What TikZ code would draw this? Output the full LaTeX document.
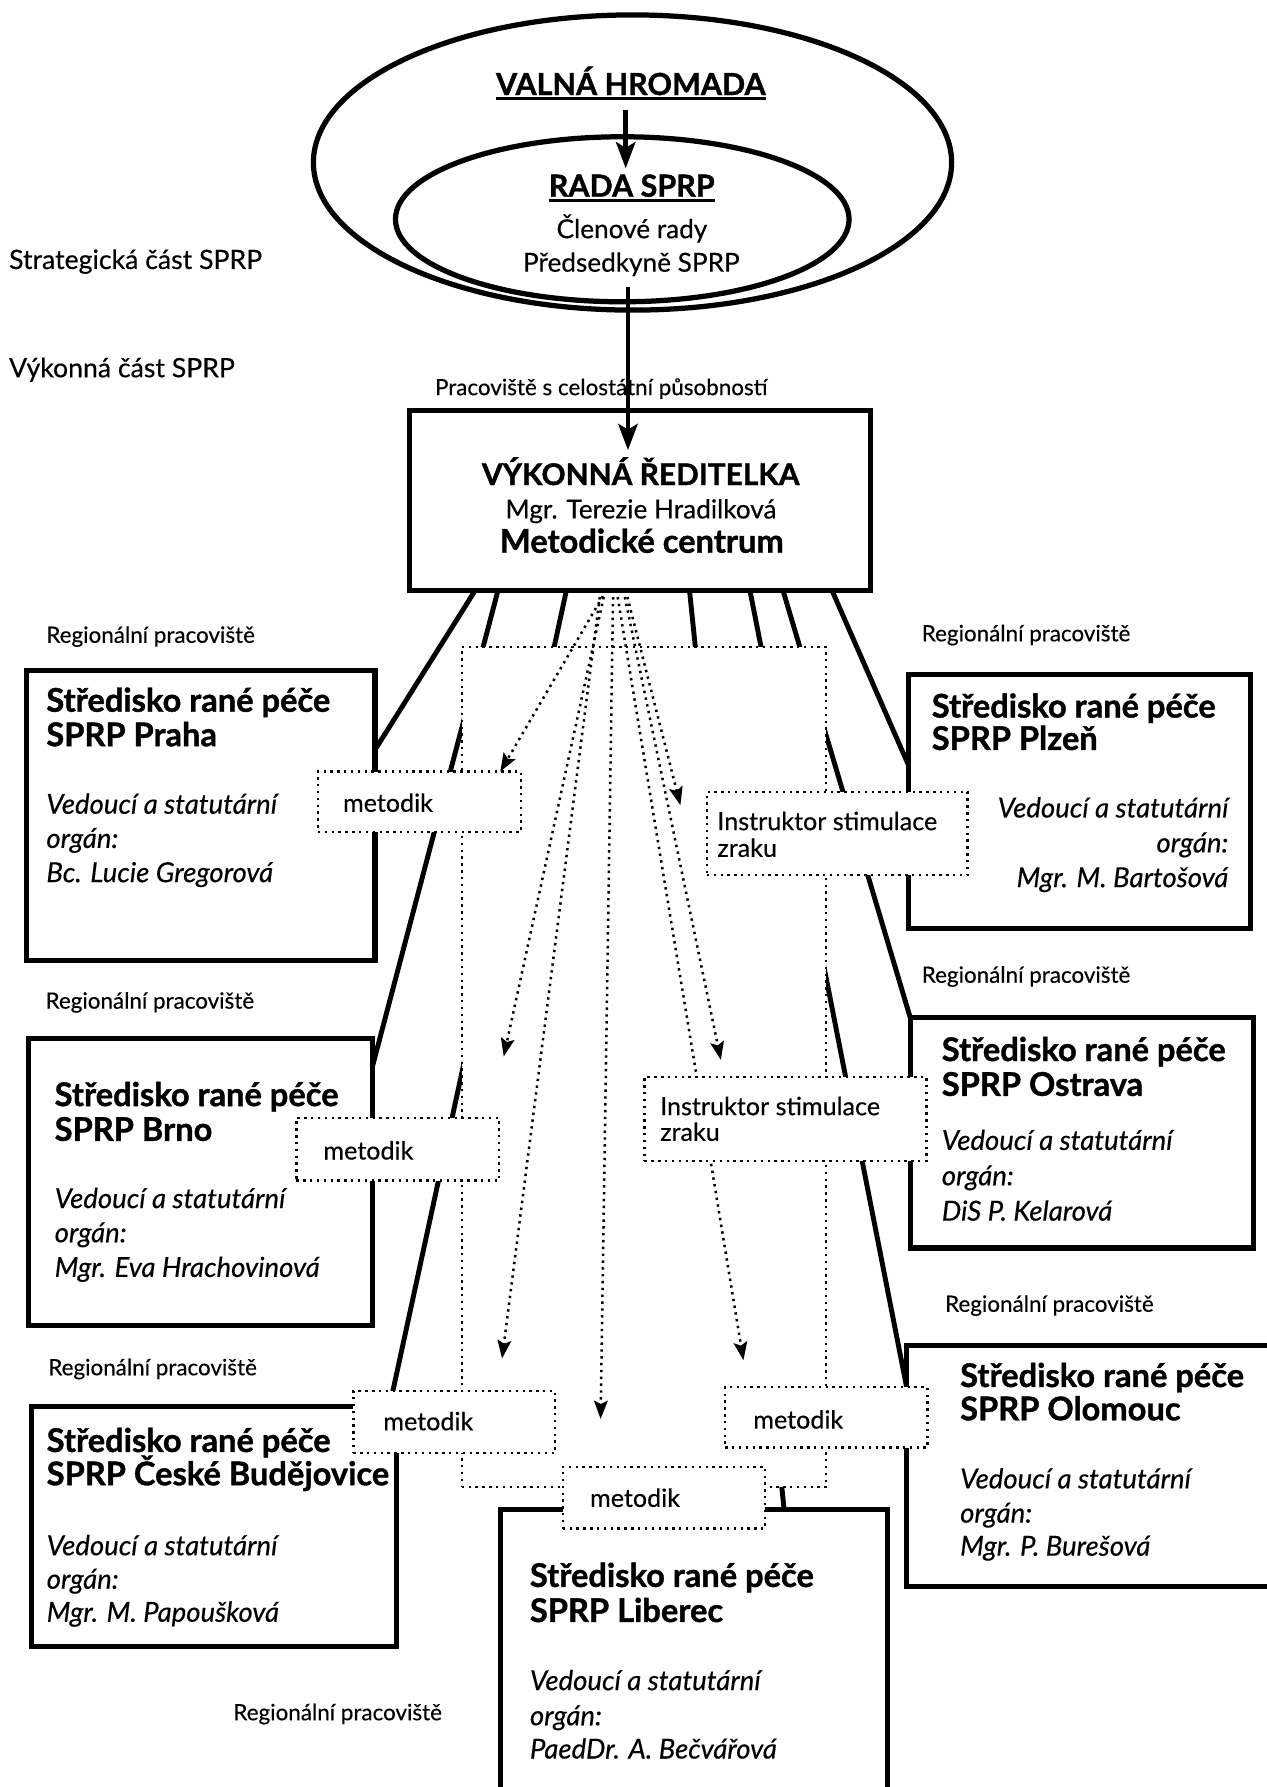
\documentclass[tikz,border=0pt]{standalone}
\usepackage{fontspec}
\setmainfont{Lato}[UprightFeatures={FakeBold=0.35}, ItalicFeatures={FakeBold=0.35}, BoldFeatures={FakeBold=1.2}]
\usetikzlibrary{arrows.meta,shapes.geometric,calc}
\pgfdeclarelayer{lines}
\pgfdeclarelayer{framel}
\pgfdeclarelayer{arrl}
\pgfsetlayers{lines,framel,arrl,main}
\newlength\calw
\newcommand\calib[4]{\settowidth\calw{\normalfont\fontsize{10pt}{12pt}\selectfont#2 #3}\pgfmathsetmacro#1{10*#4/\the\calw}}
\newcommand\fs[1]{\fontsize{#1pt}{#1pt}\selectfont}
\newcommand\ulx[1]{\setbox0=\hbox{#1}\rlap{\rule[-4.6pt]{\wd0}{2.8pt}}\box0}
\AtBeginDocument{%
\calib\szlab{}{Regionální pracoviště}{188}%
\calib\szside{}{Strategická část SPRP}{228}%
\calib\szmid{}{Předsedkyně SPRP}{196}%
\calib\szmet{}{Instruktor stimulace}{198.5}%
\calib\szit{\itshape}{Vedoucí a statutární}{208}%
\calib\szbf{\bfseries}{Středisko rané péče}{256}%
\calib\szvr{\bfseries}{VÝKONNÁ ŘEDITELKA}{285}%
\calib\szhead{\bfseries}{VALNÁ HROMADA}{243}%
}
\tikzset{
  txt/.style={inner sep=0pt, outer sep=0pt},
  lab/.style={txt, font=\fs{\szlab}},
  side/.style={txt, font=\fs{\szside}},
  mid/.style={txt, font=\fs{\szmid}},
  met/.style={txt, font=\fs{\szmet}},
  itx/.style={txt, font=\fs{\szit}\itshape},
  bft/.style={txt, font=\fs{\szbf}\bfseries},
  vrb/.style={txt, font=\fs{\szvr}\bfseries},
  head/.style={txt, font=\fs{\szhead}\bfseries},
  ell/.style={draw, ellipse, line width=4.6pt, inner sep=0pt, outer sep=0pt},
  rbox/.style={draw, line width=4.5pt, fill=white, inner sep=0pt, outer sep=0pt, anchor=north west},
  dotline/.style={line width=2.2pt, dash pattern=on 2.1pt off 3.9pt},
  mbox/.style={draw, dotline, fill=white, inner sep=0pt, outer sep=0pt, anchor=north west},
  conn/.style={line width=4.3pt},
  darr/.style={dotline, -{Stealth[length=16pt,width=12pt,inset=3pt]}},
  bigarr/.style={line width=3.9pt, -{Stealth[length=23pt,width=17pt,inset=5pt]}}
}
\begin{document}
\begin{tikzpicture}[x=1pt,y=-1pt]
\useasboundingbox (0,0) rectangle (1111,1568);

% strategic part
\node[ell, minimum width=560pt, minimum height=259pt] (outer) at (555,142.6) {};
\node[ell, minimum width=398pt, minimum height=144.8pt] (inner) at (546,192.4) {};
\node[head, anchor=base] (valna) at (553.5,83.4) {\ulx{VALNÁ HROMADA}};
\node[head, anchor=base] (rada) at (554.3,172.6) {\ulx{RADA SPRP}};
\node[mid, anchor=base] (clen) at (554.5,209) {Členové rady};
\node[mid, anchor=base] (preds) at (554,238.4) {Předsedkyně SPRP};
\node[side, anchor=base west] (strat) at (8,236) {Strategická část SPRP};
\node[side, anchor=base west] (vyk) at (8,331) {Výkonná část SPRP};
\node[lab, anchor=base west] (celost) at (381.7,346.7) {Pracoviště s celostátní působností};

% executive director
\node[rbox, minimum width=404.5pt, minimum height=158pt] (vr) at (359,360) {};
\node[vrb, anchor=base] (vrt) at (562.2,425.6) {VÝKONNÁ ŘEDITELKA};
\node[mid, anchor=base] (vrn) at (562.4,454.9) {Mgr. Terezie Hradilková};
\node[bft, anchor=base] (vrm) at (563.2,485) {Metodické centrum};
\draw[bigarr] ($(valna.base)+(-4.5,13.1)$) -- ($(rada.base)+(-5.3,-24.9)$);
\draw[bigarr] ($(preds.base)+(-3,13.2)$) -- ($(vrt.base)+(-11.2,-30.6)$);

% regional boxes
\node[rbox, minimum width=305.5pt, minimum height=254.5pt] (praha) at (23.5,588) {};
\node[rbox, minimum width=302pt, minimum height=252pt] (brno) at (25,911) {};
\node[rbox, minimum width=320.2pt, minimum height=211pt] (cb) at (27.8,1234) {};
\node[rbox, minimum width=339.3pt, minimum height=285.5pt] (lib) at (439.4,1324.5) {};
\node[rbox, minimum width=300pt, minimum height=223pt] (plzen) at (797,591.5) {};
\node[rbox, minimum width=301.4pt, minimum height=202.3pt] (ostrava) at (798.6,892.7) {};
\node[rbox, minimum width=344.3pt, minimum height=212pt] (olom) at (795.7,1180.4) {};

% Praha
\node[lab, anchor=base west] (lpraha) at (40.7,564) {Regionální pracoviště};
\node[bft, anchor=base west] (praha1) at (40.7,624.5) {Středisko rané péče};
\node[bft, anchor=base west] (praha2) at (40.7,654.7) {SPRP Praha};
\node[itx, anchor=base west] (praha3) at (40.7,714) {Vedoucí a statutární};
\node[itx, anchor=base west] (praha4) at (40.7,744) {orgán:};
\node[itx, anchor=base west] (praha5) at (40.7,774) {Bc. Lucie Gregorová};
% Brno
\node[lab, anchor=base west] (lbrno) at (40,885) {Regionální pracoviště};
\node[bft, anchor=base west] (brno1) at (48,970.5) {Středisko rané péče};
\node[bft, anchor=base west] (brno2) at (48,1001) {SPRP Brno};
\node[itx, anchor=base west] (brno3) at (48,1060) {Vedoucí a statutární};
\node[itx, anchor=base west] (brno4) at (48,1090) {orgán:};
\node[itx, anchor=base west] (brno5) at (48,1120.4) {Mgr. Eva Hrachovinová};
% Ceske Budejovice
\node[lab, anchor=base west] (lcb) at (42.4,1206.7) {Regionální pracoviště};
\node[bft, anchor=base west] (cb1) at (41,1274) {Středisko rané péče};
\node[bft, anchor=base west] (cb2) at (41,1303.2) {SPRP České Budějovice};
\node[itx, anchor=base west] (cb3) at (41,1364.6) {Vedoucí a statutární};
\node[itx, anchor=base west] (cb4) at (41,1394) {orgán:};
\node[itx, anchor=base west] (cb5) at (41,1423) {Mgr. M. Papoušková};
% Liberec
\node[lab, anchor=base west] (llib) at (204.8,1509.4) {Regionální pracoviště};
\node[bft, anchor=base west] (lib1) at (465,1392.4) {Středisko rané péče};
\node[bft, anchor=base west] (lib2) at (465,1423.2) {SPRP Liberec};
\node[itx, anchor=base west] (lib3) at (465,1483) {Vedoucí a statutární};
\node[itx, anchor=base west] (lib4) at (465,1513.8) {orgán:};
\node[itx, anchor=base west] (lib5) at (465,1543) {PaedDr. A. Bečvářová};
% Plzen
\node[lab, anchor=base west] (lplzen) at (808.8,562.7) {Regionální pracoviště};
\node[bft, anchor=base west] (plzen1) at (817.6,629.6) {Středisko rané péče};
\node[bft, anchor=base west] (plzen2) at (817.6,658) {SPRP Plzeň};
\node[itx, anchor=base east] (plzen3) at (1077.8,717.3) {Vedoucí a statutární};
\node[itx, anchor=base east] (plzen4) at (1077.8,747.9) {orgán:};
\node[itx, anchor=base east] (plzen5) at (1077.8,778.4) {Mgr. M. Bartošová};
% Ostrava
\node[lab, anchor=base west] (lostrava) at (808.8,862.3) {Regionální pracoviště};
\node[bft, anchor=base west] (ostrava1) at (826.4,931) {Středisko rané péče};
\node[bft, anchor=base west] (ostrava2) at (826.4,961.5) {SPRP Ostrava};
\node[itx, anchor=base west] (ostrava3) at (826.4,1009) {Vedoucí a statutární};
\node[itx, anchor=base west] (ostrava4) at (826.4,1040) {orgán:};
\node[itx, anchor=base west] (ostrava5) at (826.4,1071) {DiS P. Kelarová};
% Olomouc
\node[lab, anchor=base west] (lolom) at (829.3,1151) {Regionální pracoviště};
\node[bft, anchor=base west] (olom1) at (842.5,1217) {Středisko rané péče};
\node[bft, anchor=base west] (olom2) at (842.5,1246.2) {SPRP Olomouc};
\node[itx, anchor=base west] (olom3) at (842.5,1306) {Vedoucí a statutární};
\node[itx, anchor=base west] (olom4) at (842.5,1336) {orgán:};
\node[itx, anchor=base west] (olom5) at (842.5,1365) {Mgr. P. Burešová};

% methodologist boxes
\node[mbox, minimum width=178pt, minimum height=53pt] (m1) at (279,677) {};
\node[mbox, minimum width=178pt, minimum height=55pt] (m2) at (260,981) {};
\node[mbox, minimum width=177pt, minimum height=54.6pt] (m3) at (310,1220.4) {};
\node[mbox, minimum width=177.6pt, minimum height=54.2pt] (m4) at (493.8,1287) {};
\node[mbox, minimum width=177.5pt, minimum height=53.2pt] (m5) at (636.3,1217) {};
\node[mbox, minimum width=228.8pt, minimum height=73.1pt] (i1) at (620.2,694.8) {};
\node[mbox, minimum width=247.5pt, minimum height=73.7pt] (i2) at (565.5,944.9) {};
\node[met, anchor=base west] (m1t) at (301,712.3) {metodik};
\node[met, anchor=base west] (m2t) at (283.8,1017.4) {metodik};
\node[met, anchor=base west] (m3t) at (336.4,1255) {metodik};
\node[met, anchor=base west] (m4t) at (517.8,1322.2) {metodik};
\node[met, anchor=base west] (m5t) at (661,1253.5) {metodik};
\node[met, anchor=base west] (i1t) at (629.5,728.4) {Instruktor stimulace};
\node[met, anchor=base west] (i1u) at (629.5,751.8) {zraku};
\node[met, anchor=base west] (i2t) at (579.3,978.5) {Instruktor stimulace};
\node[met, anchor=base west] (i2u) at (579.3,1001) {zraku};

% solid connectors (hidden inside the frame)
\begin{pgfonlayer}{lines}
\draw[conn] ($(vr.south west)+(58,0)$) -- ($(praha.north east)+(0,70)$);
\draw[conn] ($(vr.south west)+(78,0)$) -- ($(brno.north east)+(0,24)$);
\draw[conn] ($(vr.south west)+(138,0)$) -- ($(cb.north west)+(314,0)$);
\draw[conn] ($(vr.south west)+(246,0)$) -- ($(lib.north west)+(248.6,0)$);
\draw[conn] ($(vr.south west)+(299,0)$) -- ($(olom.north west)+(0,37.6)$);
\draw[conn] ($(vr.south west)+(328,0)$) -- (ostrava.north west);
\draw[conn] ($(vr.south west)+(371,0)$) -- ($(plzen.north west)+(0,79.5)$);
\end{pgfonlayer}

% dotted frame
\begin{pgfonlayer}{framel}
\node[mbox, minimum width=319.6pt, minimum height=737pt] (frame) at (405.2,567.7) {};
\end{pgfonlayer}

% dotted arrows
\begin{pgfonlayer}{arrl}
\draw[darr] ($(vr.south west)+(173,0)$) -- ($(m1.north west)+(160,0)$);
\draw[darr] ($(vr.south west)+(172,0)$) -- ($(m2.north east)+(4,-54)$);
\draw[darr] ($(vr.south west)+(168,0)$) -- ($(m3.north west)+(130.5,-28.4)$);
\draw[darr] ($(vr.south west)+(179,0)$) -- ($(m4.north west)+(33.2,-42)$);
\draw[darr] ($(vr.south west)+(190,0)$) -- ($(i1.north west)+(-23.2,11.7)$);
\draw[darr] ($(vr.south west)+(188,0)$) -- ($(i2.north west)+(67,-14.9)$);
\draw[darr] ($(vr.south west)+(182,0)$) -- ($(m5.north west)+(16,-23.5)$);
\end{pgfonlayer}
\end{tikzpicture}
\end{document}
